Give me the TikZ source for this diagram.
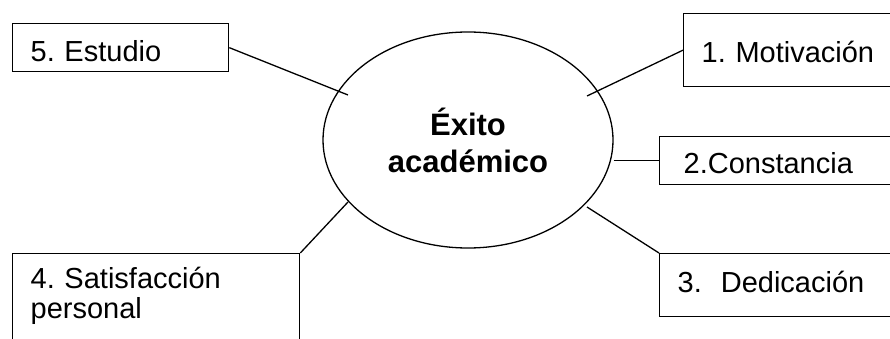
\documentclass[tikz,border=0pt]{standalone}
\usepackage{fontspec}
\setmainfont{Liberation Sans}
\usetikzlibrary{shapes.geometric}
\frenchspacing

\begin{document}
\begin{tikzpicture}
  [x=1pt,y=-1pt,line width=1.3pt,
   every node/.style={draw,anchor=north west,align=left,inner xsep=18pt,inner ysep=0pt,
     font=\fontsize{29}{30}\selectfont}]
  \useasboundingbox (0,0) rectangle (890,339);
  \clip (0,0) rectangle (890,339);

  \node[ellipse,anchor=center,align=center,inner sep=0pt,minimum width=290pt,minimum height=216pt,
    font=\fontsize{31}{37}\selectfont\bfseries] (exito) at (468,140) {Éxito\\académico};

  \node[text width=180pt,text height=38pt,text depth=10pt] (est) at (12,23) {5. Estudio};
  \node[text width=250pt,text height=49pt,text depth=24pt] (mot) at (683,13) {1. Motivación};
  \node[text width=250pt,text height=37pt,text depth=11pt,inner xsep=24pt] (con) at (659,136) {2.Constancia};
  \node[text width=250pt,text height=39pt,text depth=24pt] (ded) at (659,253) {3.\hspace{19pt}Dedicación};
  \node[text width=251pt,text height=35pt,text depth=100pt] (sat) at (12,253) {4. Satisfacción\\personal};

  \coordinate (p5) at (348,95);
  \coordinate (p1) at (587,96);
  \coordinate (p3) at (587,207);
  \coordinate (p4) at (348,202);

  \foreach \from/\to in {est.east/p5,mot.west/p1,ded.north west/p3,sat.north east/p4}
    \draw (\from) -- (\to);
  \draw (exito.east |- con.west) -- (con.west);

\end{tikzpicture}
\end{document}
